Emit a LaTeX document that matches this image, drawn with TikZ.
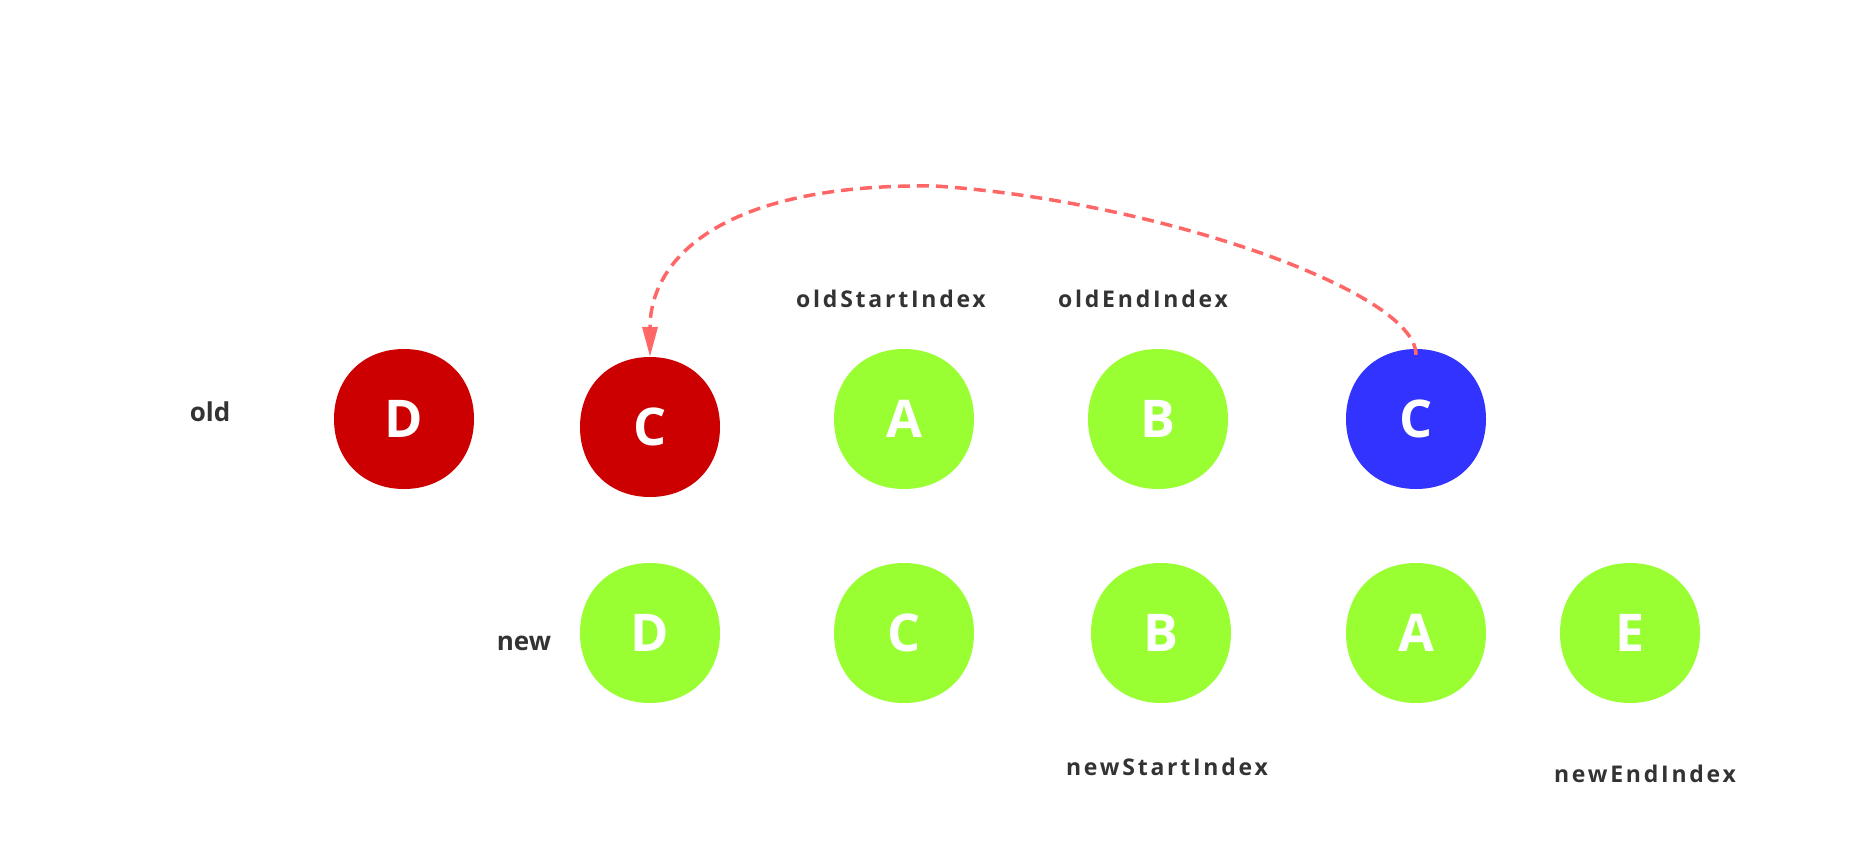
\documentclass[tikz,border=0pt]{standalone}
\usepackage{fontspec}
\setmainfont{Open Sans}
\newfontfamily\labfont[LetterSpace=12]{Open Sans}
\usetikzlibrary{arrows.meta}
\definecolor{cred}{HTML}{CC0000}
\definecolor{cblue}{HTML}{3333FF}
\definecolor{cgreen}{HTML}{99FF33}
\definecolor{ctext}{HTML}{333333}
\definecolor{carrow}{HTML}{FF6666}
\tikzset{
  blob/.style={circle, minimum size=140pt, inner sep=0pt,
    text=white, font=\fontsize{52}{52}\selectfont\bfseries},
  lab/.style={text=ctext, font=\fontsize{23}{23}\selectfont\bfseries\labfont, inner sep=0pt},
  rowlab/.style={text=ctext, font=\fontsize{26}{26}\selectfont\bfseries, inner sep=0pt},
  move/.style={draw=carrow, line width=3.5pt, dash pattern=on 12pt off 7pt, -{Triangle[length=30pt,width=15pt]}}
}
% squircle blob node: #1 name, #2 colour, #3 position, #4 text
\newcommand\blobnode[4]{%
  \fill[#2] (#3) ++(70,0) .. controls +(0,41) and +(41,0) .. ++(-70,70)
     .. controls +(-41,0) and +(0,41) .. ++(-70,-70)
     .. controls +(0,-41) and +(-41,0) .. ++(70,-70)
     .. controls +(41,0) and +(0,-41) .. cycle;
  \node[blob] (#1) at (#3) {#4};}
\begin{document}
\begin{tikzpicture}[x=1pt,y=-1pt]
\useasboundingbox (0,0) rectangle (1856,860);
% old row
\node[rowlab] (oldlab) at (210,412) {old};
\blobnode{oD}{cred}{404,419}{D}
\blobnode{oC}{cred}{650,427}{C}
\blobnode{oA}{cgreen}{904,419}{A}
\blobnode{oB}{cgreen}{1158,419}{B}
\blobnode{oC2}{cblue}{1416,419}{C}
% new row
\node[rowlab] (newlab) at (524,643) {new};
\blobnode{nD}{cgreen}{650,633}{D}
\blobnode{nC}{cgreen}{904,633}{C}
\blobnode{nB}{cgreen}{1161,633}{B}
\blobnode{nA}{cgreen}{1416,633}{A}
\blobnode{nE}{cgreen}{1630,633}{E}
% index labels
\node[lab] (osi) at (891,299) {oldStartIndex};
\node[lab] (oei) at (1143,299) {oldEndIndex};
\node[lab] (nsi) at (1167,767) {newStartIndex};
\node[lab] (nei) at (1645,774) {newEndIndex};
% arrow
\coordinate (peak) at (935,186);
\draw[move] ([yshift=-6pt]oC2.north) .. controls (1416,290) and (1150,200) .. (peak)
  .. controls (720,183) and (650,260) .. (oC.north);
\end{tikzpicture}
\end{document}
